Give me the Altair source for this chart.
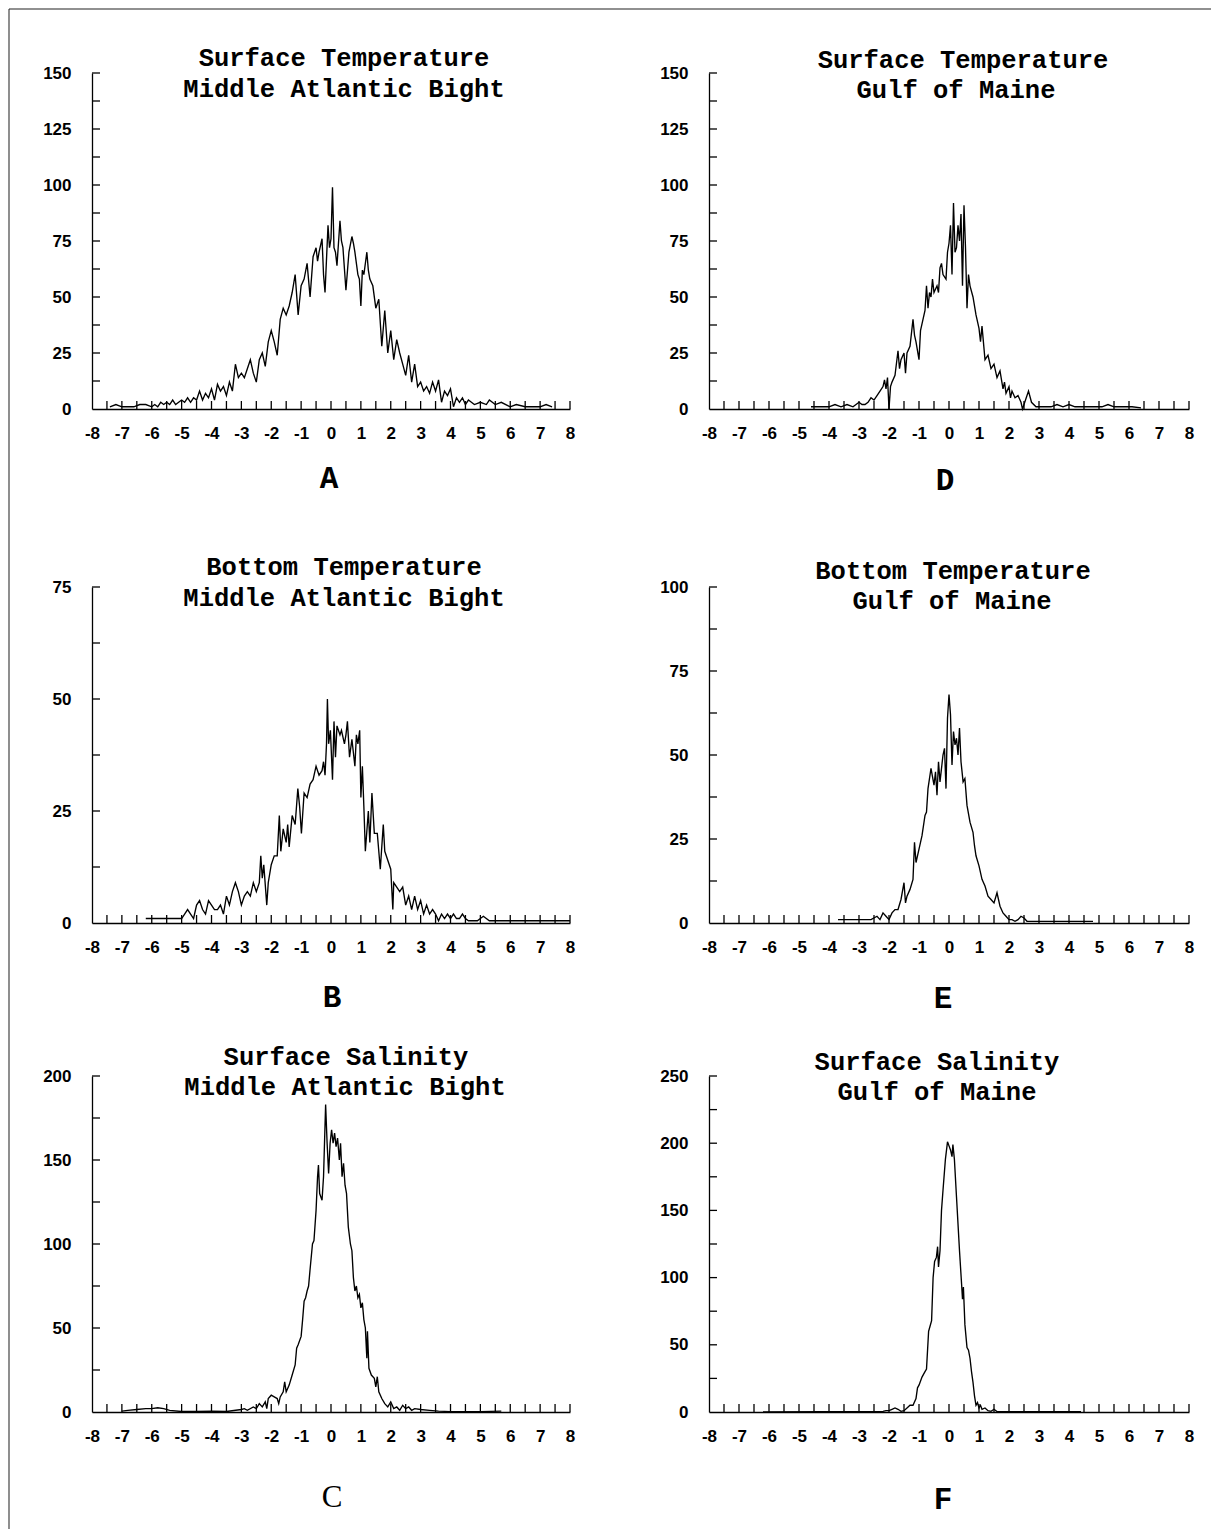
import altair as alt
import pandas as pd

# ---------------- data ----------------
X_LABELS = list(range(-8, 9))
X_TICKS = [v / 2 for v in range(-15, 17)]

# A  Surface Temperature, Middle Atlantic Bight
A_x = [-7.4, -7.2, -7.0, -6.8, -6.6, -6.4, -6.2, -6.0, -5.9, -5.8, -5.7, -5.6, -5.5, -5.4, -5.3, -5.2, -5.1, -5.0,
       -4.9, -4.8, -4.7, -4.6, -4.5, -4.4, -4.3, -4.2, -4.1, -4.0, -3.9, -3.8, -3.7, -3.6, -3.5, -3.4, -3.3, -3.2,
       -3.1, -3.0, -2.9, -2.8, -2.7, -2.6, -2.5, -2.4, -2.3, -2.2, -2.1, -2.0, -1.9, -1.8, -1.7, -1.6, -1.5, -1.4,
       -1.3, -1.2, -1.1, -1.0, -0.9, -0.8, -0.7, -0.6, -0.5, -0.45, -0.4, -0.3, -0.25, -0.2, -0.1, -0.05, 0.0, 0.05,
       0.1, 0.15, 0.2, 0.3, 0.35, 0.4, 0.5, 0.6, 0.7, 0.75, 0.8, 0.9, 0.95, 1.0, 1.05, 1.1, 1.2, 1.25, 1.3, 1.4, 1.5,
       1.6, 1.7, 1.8, 1.9, 2.0, 2.1, 2.2, 2.3, 2.4, 2.5, 2.6, 2.7, 2.8, 2.9, 3.0, 3.1, 3.2, 3.3, 3.4, 3.5, 3.6, 3.7,
       3.8, 3.9, 4.0, 4.1, 4.2, 4.3, 4.4, 4.5, 4.6, 4.7, 4.8, 5.0, 5.2, 5.3, 5.5, 5.7, 6.0, 6.2, 6.5, 6.8, 7.0, 7.2, 7.4]
A_y = [1, 2, 1, 1, 1, 2, 2, 1, 2, 1, 3, 2, 3, 2, 4, 2, 3, 4,
       3, 5, 3, 5, 4, 8, 4, 7, 5, 9, 4, 11, 8, 10, 6, 12, 8, 20,
       14, 16, 14, 18, 22, 16, 12, 22, 25, 19, 30, 35, 30, 24, 40, 45, 42, 46,
       52, 60, 42, 55, 58, 65, 50, 68, 72, 66, 70, 76, 60, 52, 82, 72, 76, 99,
       72, 70, 64, 84, 75, 72, 53, 70, 77, 74, 70, 60, 58, 46, 62, 60, 70, 62, 58, 55, 45,
       49, 28, 44, 25, 35, 22, 31, 25, 20, 15, 24, 12, 20, 10, 12, 8, 10, 7, 12, 8, 13, 3,
       8, 6, 9, 1, 5, 3, 5, 2, 4, 3, 2, 3, 2, 4, 2, 3, 1, 2, 1, 1, 1, 2, 1]

# D  Surface Temperature, Gulf of Maine
D_x = [-4.6, -4.3, -4.0, -3.8, -3.6, -3.4, -3.2, -3.0, -2.9, -2.8, -2.7, -2.6, -2.5, -2.4, -2.3, -2.2, -2.15, -2.1,
       -2.05, -2.0, -1.95, -1.9, -1.8, -1.7, -1.65, -1.6, -1.5, -1.45, -1.4, -1.3, -1.2, -1.15, -1.1, -1.0, -0.95,
       -0.9, -0.8, -0.75, -0.7, -0.65, -0.6, -0.55, -0.5, -0.4, -0.35, -0.3, -0.25, -0.2, -0.1, -0.05, 0.0, 0.05,
       0.1, 0.15, 0.2, 0.25, 0.3, 0.35, 0.4, 0.45, 0.5, 0.55, 0.6, 0.65, 0.7, 0.8, 0.9, 1.0, 1.05, 1.1, 1.2, 1.3,
       1.4, 1.5, 1.6, 1.7, 1.8, 1.85, 1.9, 2.0, 2.05, 2.1, 2.2, 2.3, 2.4, 2.45, 2.55, 2.65, 2.75, 2.9, 3.1, 3.4,
       3.6, 3.8, 4.0, 4.2, 4.5, 4.8, 5.1, 5.3, 5.5, 5.8, 6.1, 6.4]
D_y = [1, 1, 1, 2, 1, 2, 1, 3, 2, 2, 3, 5, 4, 6, 8, 10, 13, 9,
       14, 0, 10, 12, 15, 26, 18, 22, 25, 16, 25, 28, 40, 33, 30, 22, 35,
       38, 44, 55, 45, 52, 50, 58, 52, 55, 52, 63, 65, 60, 58, 70, 74, 82,
       60, 92, 70, 72, 82, 75, 87, 55, 91, 72, 45, 60, 55, 50, 42, 36, 30, 37, 22, 24,
       18, 20, 14, 17, 9, 12, 7, 10, 5, 8, 5, 6, 3, 0, 4, 8, 3, 1, 1, 1,
       2, 1, 2, 1, 1, 1, 1, 2, 1, 1, 1, 0.5]

# B  Bottom Temperature, Middle Atlantic Bight
B_x = [-6.2, -5.8, -5.4, -5.0, -4.9, -4.8, -4.7, -4.6, -4.5, -4.4, -4.3, -4.2, -4.1, -4.0, -3.9, -3.8, -3.7, -3.6,
       -3.5, -3.4, -3.3, -3.2, -3.1, -3.0, -2.9, -2.8, -2.7, -2.6, -2.5, -2.4, -2.35, -2.3, -2.25, -2.15, -2.1,
       -2.0, -1.9, -1.8, -1.73, -1.68, -1.6, -1.5, -1.45, -1.4, -1.3, -1.2, -1.11, -1.05, -0.99, -0.9, -0.8, -0.7,
       -0.6, -0.5, -0.4, -0.3, -0.25, -0.2, -0.15, -0.12, -0.08, -0.02, 0.05, 0.1, 0.15, 0.2, 0.3, 0.35, 0.45,
       0.5, 0.55, 0.62, 0.7, 0.75, 0.8, 0.85, 0.9, 0.96, 1.0, 1.05, 1.1, 1.15, 1.25, 1.3, 1.37, 1.45, 1.55, 1.65,
       1.75, 1.8, 1.9, 2.0, 2.07, 2.1, 2.2, 2.3, 2.4, 2.5, 2.6, 2.7, 2.8, 2.9, 3.0, 3.1, 3.2, 3.3, 3.4, 3.5, 3.6,
       3.7, 3.8, 3.9, 4.0, 4.1, 4.2, 4.3, 4.4, 4.5, 4.6, 4.9, 5.0, 5.1, 5.3, 6.0, 7.0, 8.0]
B_y = [1, 1, 1, 1, 2, 3, 2, 1, 4, 5, 3, 2, 5, 4, 3, 3, 4, 2,
       6, 4, 7, 9, 7, 4, 6, 7, 6, 9, 7, 9, 15, 10, 13, 4, 9,
       13, 15, 15, 24, 16, 21, 18, 22, 17, 24, 22, 30, 26, 20, 29, 28, 31,
       32, 35, 33, 34, 36, 33, 40, 50, 40, 43, 32, 45, 37, 44, 42, 43, 40,
       42, 45, 37, 41, 38, 35, 42, 40, 43, 28, 35, 26, 16, 25, 18, 29, 20, 20, 12,
       22, 16, 14, 12, 3, 9, 8, 7, 8, 4, 6, 3, 6, 3, 5, 2, 4, 2, 3, 2, 0.5,
       2, 1, 2, 1, 2, 1, 1, 2, 1, 0.5, 0.5, 1, 1.5, 0.5, 0.5, 0.5, 0.5]

# E  Bottom Temperature, Gulf of Maine
E_x = [-3.7, -3.4, -3.1, -2.8, -2.6, -2.4, -2.3, -2.2, -2.1, -2.0, -1.9, -1.8, -1.7, -1.6, -1.5, -1.45, -1.4, -1.3,
       -1.2, -1.15, -1.1, -1.0, -0.9, -0.8, -0.75, -0.7, -0.6, -0.5, -0.45, -0.4, -0.35, -0.3, -0.2, -0.15, -0.1,
       -0.05, 0.0, 0.05, 0.1, 0.15, 0.2, 0.25, 0.3, 0.35, 0.4, 0.47, 0.53, 0.6, 0.7, 0.8, 0.85, 0.9, 1.0, 1.1, 1.2,
       1.3, 1.4, 1.5, 1.6, 1.7, 1.8, 1.9, 2.0, 2.1, 2.2, 2.3, 2.4, 2.5, 2.6, 3.0, 4.0, 4.8]
E_y = [1, 1, 1, 1, 1, 2, 1, 3, 2, 1, 3, 4, 4, 7, 12, 6, 8, 10,
       13, 24, 18, 22, 26, 32, 33, 40, 46, 41, 45, 38, 48, 42, 50, 52, 40,
       61, 68, 62, 47, 57, 53, 55, 50, 58, 48, 42, 43, 35, 30, 27, 23, 20, 17, 13, 11,
       8, 7, 6, 9, 5, 3, 2, 1, 1, 0.5, 1, 2, 1.5, 0.5, 0.5, 0.5, 0.5]

# C  Surface Salinity, Middle Atlantic Bight
C_x = [-7.0, -6.8, -6.5, -6.2, -6.0, -5.8, -5.6, -5.4, -5.0, -4.5, -4.0, -3.5, -3.0, -2.9, -2.8, -2.6, -2.5, -2.4,
       -2.3, -2.2, -2.15, -2.1, -2.0, -1.9, -1.8, -1.75, -1.7, -1.6, -1.55, -1.5, -1.4, -1.3, -1.2, -1.15, -1.1,
       -1.0, -0.95, -0.9, -0.85, -0.8, -0.75, -0.7, -0.62, -0.57, -0.5, -0.45, -0.42, -0.38, -0.3, -0.25, -0.18,
       -0.13, -0.08, -0.03, 0.02, 0.07, 0.12, 0.17, 0.22, 0.28, 0.32, 0.37, 0.42, 0.47, 0.52, 0.58, 0.65, 0.7,
       0.75, 0.8, 0.85, 0.9, 0.95, 1.0, 1.05, 1.1, 1.15, 1.2, 1.22, 1.27, 1.35, 1.45, 1.5, 1.55, 1.6, 1.7, 1.8,
       1.9, 2.0, 2.1, 2.2, 2.3, 2.4, 2.5, 2.6, 2.7, 2.8, 3.0, 3.3, 3.6, 4.0, 5.0, 5.7]
C_y = [0.5, 1, 1.5, 2, 2, 2.5, 2, 1, 0.3, 0.3, 0.5, 0.3, 1.5, 2, 1, 3, 2, 5,
       3, 6, 2, 8, 10, 9, 8, 5, 9, 12, 18, 12, 16, 22, 28, 38, 40,
       45, 55, 66, 68, 72, 75, 85, 100, 102, 120, 140, 147, 130, 126, 140, 183,
       160, 142, 160, 168, 160, 166, 158, 163, 150, 160, 140, 148, 135, 130, 110, 100, 96,
       80, 72, 75, 68, 70, 62, 65, 55, 50, 32, 48, 26, 22, 20, 15, 21, 12, 8, 5,
       3, 6, 2, 3, 1, 4, 2, 3, 1, 2, 1.5, 1, 0.5, 0.2, 0.2, 0.5]

# F  Surface Salinity, Gulf of Maine
F_x = [-6.2, -4.2, -3.0, -2.2, -2.1, -2.0, -1.9, -1.8, -1.7, -1.6, -1.5, -1.4, -1.3, -1.2, -1.1, -1.05, -1.0, -0.9,
       -0.8, -0.75, -0.68, -0.63, -0.58, -0.53, -0.48, -0.42, -0.38, -0.35, -0.3, -0.25, -0.2, -0.12, -0.05, 0.0,
       0.05, 0.1, 0.13, 0.18, 0.25, 0.3, 0.35, 0.42, 0.45, 0.48, 0.53, 0.6, 0.65, 0.7, 0.75, 0.8, 0.85, 0.9, 0.95,
       1.0, 1.05, 1.1, 1.2, 1.3, 1.4, 1.5, 1.6, 2.0, 3.0, 4.4]
F_y = [0, 0.3, 0.3, 0.5, 1, 1, 2, 3, 2, 0.5, 1, 3, 5, 5, 10, 18, 20, 26,
       30, 32, 60, 64, 68, 100, 112, 115, 123, 108, 120, 150, 165, 188, 201, 198,
       195, 190, 199, 188, 160, 140, 120, 95, 84, 93, 65, 48, 46, 40, 30, 22, 12, 5, 7,
       3, 5, 2, 3, 1, 0.5, 2, 0.3, 0.2, 0.2, 0.2]

# axis labels / minor ticks
A_ylab = [0, 25, 50, 75, 100, 125, 150]
A_ytick = [12.5 * i for i in range(1, 13)]
D_ylab = [0, 25, 50, 75, 100, 125, 150]
D_ytick = [12.5 * i for i in range(1, 13)]
B_ylab = [0, 25, 50, 75]
B_ytick = [12.5 * i for i in range(1, 7)]
E_ylab = [0, 25, 50, 75, 100]
E_ytick = [12.5 * i for i in range(1, 9)]
C_ylab = [0, 50, 100, 150, 200]
C_ytick = [25 * i for i in range(1, 9)]
F_ylab = [0, 50, 100, 150, 200, 250]
F_ytick = [25 * i for i in range(1, 11)]

TITLE_A = ["Surface Temperature", "Middle Atlantic Bight"]
TITLE_D = ["Surface Temperature", "Gulf of Maine"]
TITLE_B = ["Bottom Temperature", "Middle Atlantic Bight"]
TITLE_E = ["Bottom Temperature", "Gulf of Maine"]
TITLE_C = ["Surface Salinity", "Middle Atlantic Bight"]
TITLE_F = ["Surface Salinity", "Gulf of Maine"]

# ---------------- layout / style ----------------
H = 336
WL, WR = 478, 480
LABEL_FONT = "Liberation Sans"
TITLE_FONT = "Liberation Mono"
TICK_LEN = 8


def one(col, val):
    return pd.DataFrame({col: [val]})


def panel(xs, ys, ymax, ylab, ytick, W, title, title_pos, letter, letter_pos,
          letter_font=TITLE_FONT, letter_weight="bold", frame=False):
    df = pd.DataFrame({"x": xs, "y": ys})
    xscale = alt.Scale(domain=[-8, 8], nice=False, zero=False)
    yscale = alt.Scale(domain=[0, ymax], nice=False)
    common = dict(title=None, grid=False, ticks=False, tickSize=0,
                  labelFont=LABEL_FONT, labelFontWeight="bold", labelFontSize=17, labelColor="black",
                  labelFlush=False, labelOverlap=False, labelExpr="'' + datum.value",
                  domainColor="black", domainWidth=1.3)
    xaxis = alt.Axis(values=X_LABELS, labelPadding=16, **common)
    yaxis = alt.Axis(values=ylab, labelPadding=21, **common)

    line = alt.Chart(df).mark_line(color="black", strokeWidth=1.35).encode(
        x=alt.X("x:Q", scale=xscale, axis=xaxis),
        y=alt.Y("y:Q", scale=yscale, axis=yaxis),
    )
    xt = alt.Chart(pd.DataFrame({"x": X_TICKS})).mark_rule(color="black", strokeWidth=1.3).encode(
        x=alt.X("x:Q", scale=xscale, axis=xaxis),
        y=alt.value(H), y2=alt.value(H - TICK_LEN),
    )
    yt = alt.Chart(pd.DataFrame({"y": ytick})).mark_rule(color="black", strokeWidth=1.3).encode(
        y=alt.Y("y:Q", scale=yscale, axis=yaxis),
        x=alt.value(0), x2=alt.value(TICK_LEN),
    )
    layers = [line, xt, yt]
    for text, (tx, ty) in zip(title, title_pos):
        layers.append(
            alt.Chart(one("t", text)).mark_text(
                font=TITLE_FONT, fontWeight="bold", fontSize=25.5, color="black",
                align="center", baseline="alphabetic",
            ).encode(text="t:N", x=alt.value(tx), y=alt.value(ty))
        )
    layers.append(
        alt.Chart(one("t", letter)).mark_text(
            font=letter_font, fontWeight=letter_weight, fontSize=31, color="black",
            align="center", baseline="alphabetic",
        ).encode(text="t:N", x=alt.value(letter_pos[0]), y=alt.value(letter_pos[1]))
    )
    if frame:
        layers.append(
            alt.Chart(one("k", 0)).mark_rule(color="#444444", strokeWidth=1.2).encode(
                x=alt.value(-83), y=alt.value(-64), y2=alt.value(1456))
        )
        layers.append(
            alt.Chart(one("k", 0)).mark_rule(color="#222222", strokeWidth=1.2).encode(
                x=alt.value(-83), x2=alt.value(1119), y=alt.value(-64))
        )
    return alt.layer(*layers).properties(width=W, height=H)


def spacer(w, h):
    return alt.Chart(one("k", 0)).mark_point(opacity=0).encode(
        x=alt.value(0), y=alt.value(0)).properties(width=w, height=h)


pA = panel(A_x, A_y, 150, A_ylab, A_ytick, WL, TITLE_A, [(252, -7), (252, 24)], "A", (237, H + 79), frame=True)
pD = panel(D_x, D_y, 150, D_ylab, D_ytick, WR, TITLE_D, [(254, -5), (247, 25)], "D", (236, H + 81))
pB = panel(B_x, B_y, 75, B_ylab, B_ytick, WL, TITLE_B, [(252, -12), (252, 19)], "B", (240, H + 84))
pE = panel(E_x, E_y, 100, E_ylab, E_ytick, WR, TITLE_E, [(244, -8), (243, 22)], "E", (234, H + 85))
pC = panel(C_x, C_y, 200, C_ylab, C_ytick, WL, TITLE_C, [(254, -11), (253, 19)], "C", (240, H + 95),
           letter_font="Liberation Serif", letter_weight="normal")
pF = panel(F_x, F_y, 250, F_ylab, F_ytick, WR, TITLE_F, [(228, -6), (228, 24)], "F", (234, H + 97))

chart = alt.concat(
    pA, pD,
    spacer(WL, 178), spacer(WR, 178),
    pB, pE,
    spacer(WL, 153), spacer(WR, 153),
    pC, pF,
    columns=2, spacing={"row": 0, "column": 139}, bounds="flush",
).properties(padding=0, background="white").configure_view(stroke=None)

chart.save("out.html", embed_options={"renderer": "svg", "actions": False})
